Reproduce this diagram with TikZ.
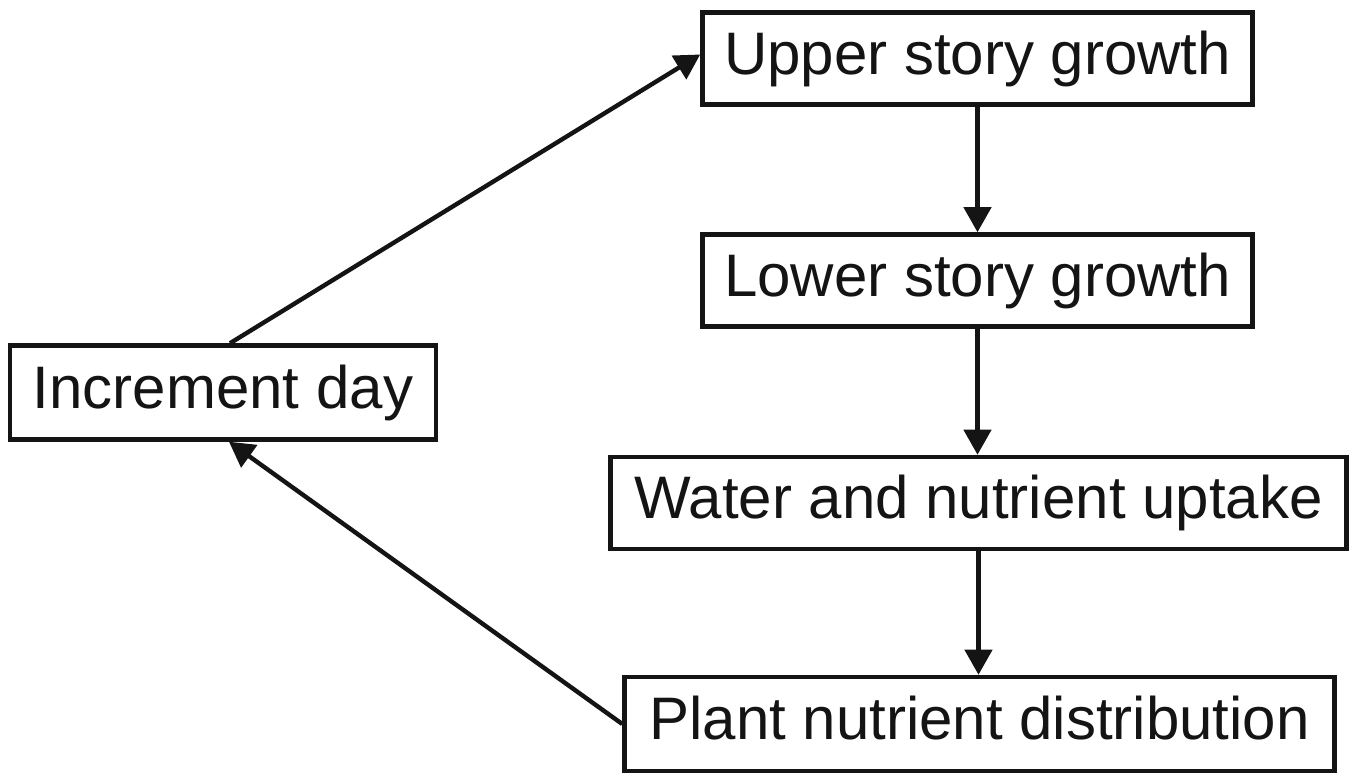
\documentclass[tikz,border=0pt]{standalone}
\usepackage{fontspec}
\setmainfont{Liberation Sans}
\usetikzlibrary{arrows.meta}
\begin{document}
\begin{tikzpicture}[x=0.5pt,y=-0.5pt,
  stage/.style={draw=black!92, line width=2.25pt, inner sep=0pt,
    font=\fontsize{30pt}{36pt}\selectfont, text=black!92,
    text height=21.5pt, text depth=5.5pt, align=center},
  flow/.style={draw=black!92, line width=2.2pt,
    -{Triangle[length=12.5pt,width=13.5pt]}}]
\useasboundingbox (0,0) rectangle (1356,774);
\fill[white] (0,0) rectangle (1356,774);

\node[stage, minimum width=275pt, minimum height=46pt] (up)  at (977.5,58.5) {Upper story growth};
\node[stage, minimum width=275pt, minimum height=46pt] (low) at (977.5,280.5) {Lower story growth};
\node[stage, minimum width=368pt, minimum height=46pt] (wat) at (978.5,503) {Water and nutrient uptake};
\node[stage, minimum width=355pt, minimum height=47pt] (pl)  at (979.5,724) {Plant nutrient distribution};
\node[stage, minimum width=213pt, minimum height=47pt] (inc) at (223,392.5) {Increment day};

\draw[flow] (up.south) -- (up.south |- low.north);
\draw[flow] (low.south) -- (low.south |- wat.north);
\draw[flow] (wat.south) -- (wat.south |- pl.north);
\draw[flow] ([xshift=3.5pt]inc.north) -- ([yshift=2pt]up.west);
\draw[flow] (pl.west) -- ([xshift=3pt]inc.south);
\end{tikzpicture}
\end{document}
